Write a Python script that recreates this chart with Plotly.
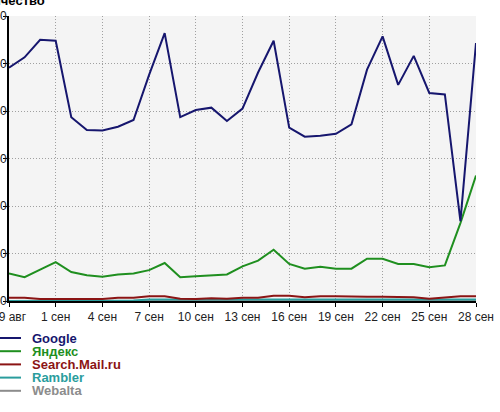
import plotly.graph_objects as go

# daily values, 29 Aug - 28 Sep
dates = ["2008-08-29", "2008-08-30", "2008-08-31", "2008-09-01", "2008-09-02", "2008-09-03",
         "2008-09-04", "2008-09-05", "2008-09-06", "2008-09-07", "2008-09-08", "2008-09-09",
         "2008-09-10", "2008-09-11", "2008-09-12", "2008-09-13", "2008-09-14", "2008-09-15",
         "2008-09-16", "2008-09-17", "2008-09-18", "2008-09-19", "2008-09-20", "2008-09-21",
         "2008-09-22", "2008-09-23", "2008-09-24", "2008-09-25", "2008-09-26", "2008-09-27",
         "2008-09-28"]

google = [491, 513, 550, 548, 387, 360, 359, 367, 381, 476, 564, 387, 402, 407, 379, 405,
          481, 548, 365, 346, 348, 352, 372, 487, 557, 455, 516, 438, 435, 168, 543]
yandex = [58, 50, 66, 82, 61, 54, 51, 56, 58, 65, 80, 50, 52, 54, 56, 73,
          85, 108, 78, 68, 72, 68, 68, 89, 89, 78, 78, 71, 75, 164, 264]
mail = [7, 7, 4, 4, 4, 4, 4, 7, 7, 10, 10, 5, 4, 6, 5, 7,
        7, 11, 11, 8, 10, 10, 9, 9, 9, 9, 8, 5, 8, 10, 10]
rambler = [0, 0, 0, 0, 0, 0, 0, 0, 1, 3, 3, 3, 3, 3, 3, 3,
           3, 3, 3, 3, 3, 3, 3, 3, 3, 3, 3, 3, 3, 3, 3]
webalta = [0] * 31

tick_dates = ["2008-08-29", "2008-09-01", "2008-09-04", "2008-09-07", "2008-09-10", "2008-09-13",
              "2008-09-16", "2008-09-19", "2008-09-22", "2008-09-25", "2008-09-28"]
tick_labels = ["29 авг", "1 сен", "4 сен", "7 сен", "10 сен", "13 сен",
               "16 сен", "19 сен", "22 сен", "25 сен", "28 сен"]

series = [
    ("Webalta", webalta, "#8c8c8c"),
    ("Rambler", rambler, "#2a9d9d"),
    ("Search.Mail.ru", mail, "#8b1414"),
    ("Яндекс", yandex, "#1f8f1f"),
    ("Google", google, "#16166e"),
]

fig = go.Figure()

for name, values, color in series:
    fig.add_trace(go.Scatter(x=dates, y=values, name=name, mode="lines",
                             line=dict(color=color, width=2), showlegend=False))

# hand-made legend, tighter than plotly's own
legend_order = ["Google", "Яндекс", "Search.Mail.ru", "Rambler", "Webalta"]
colors = {n: c for n, _, c in series}
plot_top, plot_bottom, plot_left, plot_w = 16, 301, 9, 467
for i, name in enumerate(legend_order):
    ypix = 338 + i * 13.2
    yp = (plot_bottom - ypix) / (plot_bottom - plot_top)
    fig.add_shape(type="line", xref="paper", yref="paper",
                  x0=(0 - plot_left) / plot_w, x1=(21 - plot_left) / plot_w, y0=yp, y1=yp,
                  line=dict(color=colors[name], width=2))
    fig.add_annotation(xref="paper", yref="paper", x=(30 - plot_left) / plot_w, y=yp,
                       xanchor="left", yanchor="middle", showarrow=False,
                       text="<b>" + name + "</b>",
                       font=dict(family="Liberation Sans, Arial", size=13, color=colors[name]))

# title, mostly cut off at the left edge like the original
fig.add_annotation(xref="paper", yref="paper", x=(47 - plot_left) / plot_w, y=1.0,
                   yshift=16, xanchor="right", yanchor="middle", showarrow=False,
                   text="<b>Количество</b>",
                   font=dict(family="Liberation Sans, Arial", size=13, color="black"))

fig.update_layout(
    width=500, height=412,
    margin=dict(l=9, r=24, t=16, b=111),
    paper_bgcolor="white",
    plot_bgcolor="#f4f4f4",
    font=dict(family="Liberation Sans, Arial", size=12, color="#222"),
)

fig.update_xaxes(
    range=["2008-08-29", "2008-09-28"],
    tickvals=tick_dates, ticktext=tick_labels,
    showgrid=True, gridcolor="#a0a0a0", griddash="1px,2px", gridwidth=1,
    showline=True, linecolor="black", linewidth=2,
    ticks="outside", ticklen=4, tickcolor="black",
    ticklabeloverflow="allow", ticklabelstandoff=0,
    automargin=False, zeroline=False,
)
fig.update_yaxes(
    range=[0, 600], dtick=100,
    showgrid=True, gridcolor="#a0a0a0", griddash="1px,2px", gridwidth=1,
    showline=True, linecolor="black", linewidth=2,
    ticks="outside", ticklen=4, tickcolor="black",
    ticklabeloverflow="allow", ticklabelstandoff=-6,
    automargin=False, zeroline=False,
)

# drop the default body margin so the chart sits at the window's corner
fig.write_html("out.html", config={"displayModeBar": False},
               post_script="document.body.style.margin='0';")
